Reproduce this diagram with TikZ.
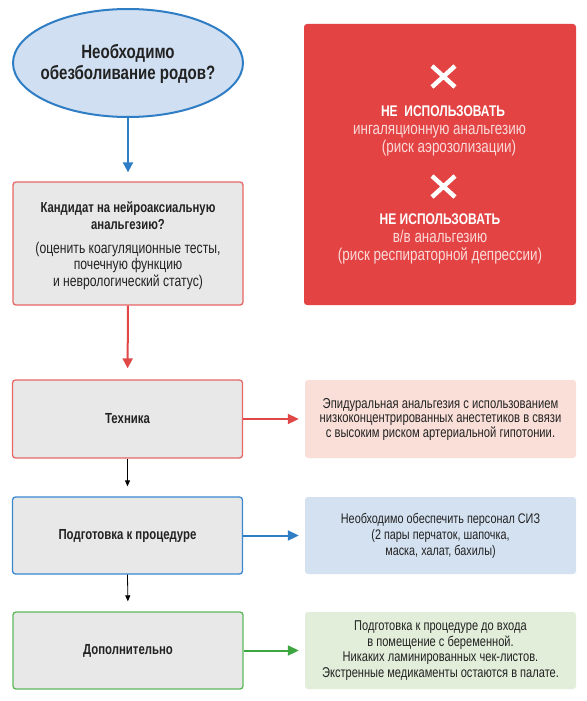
\documentclass[tikz,border=0pt]{standalone}
\usepackage{fontspec}
\setmainfont{Liberation Sans}[FakeStretch=0.78]
\usetikzlibrary{shapes.geometric,arrows.meta}
\definecolor{redbox}{HTML}{E34343}
\definecolor{redtxt}{HTML}{FBDADA}
\definecolor{grayfill}{HTML}{E8E8E8}
\definecolor{redline}{HTML}{E86666}
\definecolor{blueline}{HTML}{3A88CF}
\definecolor{greenline}{HTML}{5DB85B}
\definecolor{ellfill}{HTML}{D0E0F2}
\definecolor{elline}{HTML}{2F7DC5}
\definecolor{pinkfill}{HTML}{F9DFD8}
\definecolor{bluefill}{HTML}{D4E1F1}
\definecolor{greenfill}{HTML}{E2EDDA}
\definecolor{arrred}{HTML}{E04848}
\definecolor{arrblue}{HTML}{2F7DC5}
\definecolor{arrgreen}{HTML}{3DA640}
\definecolor{ink}{HTML}{222222}
\newcommand{\wbold}[1]{{\color{white}\bfseries\fontsize{15.4}{18}\selectfont #1}}
\begin{document}
\begin{tikzpicture}[x=1pt,y=-1pt,
  leftbox/.style={draw, line width=1.3pt, fill=grayfill, rounded corners=3pt,
    minimum width=230pt, inner sep=0pt, align=center, text=ink},
  rightbox/.style={rounded corners=3pt, minimum width=271pt, minimum height=77pt,
    inner sep=0pt, align=center, text=ink},
  thickarr/.style={line width=2pt, -{Triangle[length=10pt,width=10pt]}},
  thinarr/.style={line width=0.8pt, -{Triangle[length=6pt,width=5pt]}, shorten >=10pt},
  sidearr/.style={line width=2pt, -{Triangle[length=11pt,width=10pt]}, shorten >=6pt},
  redtext/.style={text=redtxt, font=\fontsize{17.2}{18}\selectfont, inner sep=0pt, align=center},
  xmark/.style={white, line width=4.5pt}
]
\useasboundingbox (0,0) rectangle (586,701);
\fill[white] (0,0) rectangle (586,701);

% ellipse
\node[ellipse, draw=elline, line width=2pt, fill=ellfill, minimum width=230pt,
  minimum height=108pt, inner sep=0pt] (q) at (128,63) {};
\node[align=center, text=ink, inner sep=0pt,
  font=\bfseries\fontsize{19.3}{21}\selectfont] (qt) at (128,64)
  {Необходимо\\обезболивание родов?};

% candidate box
\node[leftbox, draw=redline, minimum height=123pt] (cand) at (128,243.5) {};
\node[font=\bfseries\fontsize{14.5}{17}\selectfont, align=center, text=ink, inner sep=0pt]
  (candt) at (128,215.5) {Кандидат на нейроаксиальную\\анальгезию?};
\node[font=\fontsize{15.6}{16.5}\selectfont, align=center, text=ink, inner sep=0pt]
  (cands) at (128,265.5) {(оценить коагуляционные тесты,\\почечную функцию\\и неврологический статус)};

% red box
\node[fill=redbox, rounded corners=3pt, minimum width=272pt, minimum height=281pt,
  inner sep=0pt] (warn) at (440,164.5) {};
\draw[xmark] (432,66) -- (455,87) (432,87) -- (455,66);
\draw[xmark] (432,176) -- (455,197) (432,197) -- (455,176);
\node[redtext] (warn1) at (439.5,131)
  {\hspace*{7pt}\wbold{НЕ\ \ ИСПОЛЬЗОВАТЬ}\\ингаляционную анальгезию\\\hspace*{19pt}(риск аэрозолизации)};
\node[redtext] (warn2) at (440,238.5)
  {\wbold{НЕ ИСПОЛЬЗОВАТЬ}\\в/в анальгезию\\(риск респираторной депрессии)};

% left boxes
\node[leftbox, draw=redline, minimum height=78pt,
  font=\bfseries\fontsize{14.6}{16}\selectfont] (tech) at (127.5,419) {Техника};
\node[leftbox, draw=blueline, minimum height=77pt,
  font=\bfseries\fontsize{14.6}{16}\selectfont] (prep) at (127.5,535.5) {Подготовка к процедуре};
\node[leftbox, draw=greenline, minimum height=77pt,
  font=\bfseries\fontsize{14.6}{16}\selectfont] (add) at (128,650.5) {Дополнительно};

% right boxes
\node[rightbox, fill=pinkfill, minimum height=78pt, font=\fontsize{14.4}{14.5}\selectfont]
  (techr) at (440.5,419)
  {Эпидуральная анальгезия с использованием\\низкоконцентрированных анестетиков в связи\\с высоким риском артериальной гипотонии.};
\node[rightbox, fill=bluefill, font=\fontsize{13.9}{16}\selectfont] (prepr) at (440.5,535.5)
  {Необходимо обеспечить персонал СИЗ\\(2 пары перчаток, шапочка,\\маска, халат, бахилы)};
\node[rightbox, fill=greenfill, font=\fontsize{14.2}{15.7}\selectfont] (addr) at (440.5,650.5)
  {Подготовка к процедуре до входа\\в помещение с беременной.\\Никаких ламинированных чек-листов.\\Экстренные медикаменты остаются в палате.};

% connectors
\draw[thickarr, arrblue, shorten >=9pt] (q.south) -- (cand.north);
\draw[thickarr, arrred, shorten >=11pt] (cand.south) -- (tech.north);
\draw[thinarr, black] (tech.south) -- (prep.north);
\draw[thinarr, black] (prep.south) -- (add.north);
\draw[sidearr, arrred] (tech.east) -- (techr.west);
\draw[sidearr, arrblue] (prep.east) -- (prepr.west);
\draw[sidearr, arrgreen] (add.east) -- (addr.west);
\end{tikzpicture}
\end{document}
